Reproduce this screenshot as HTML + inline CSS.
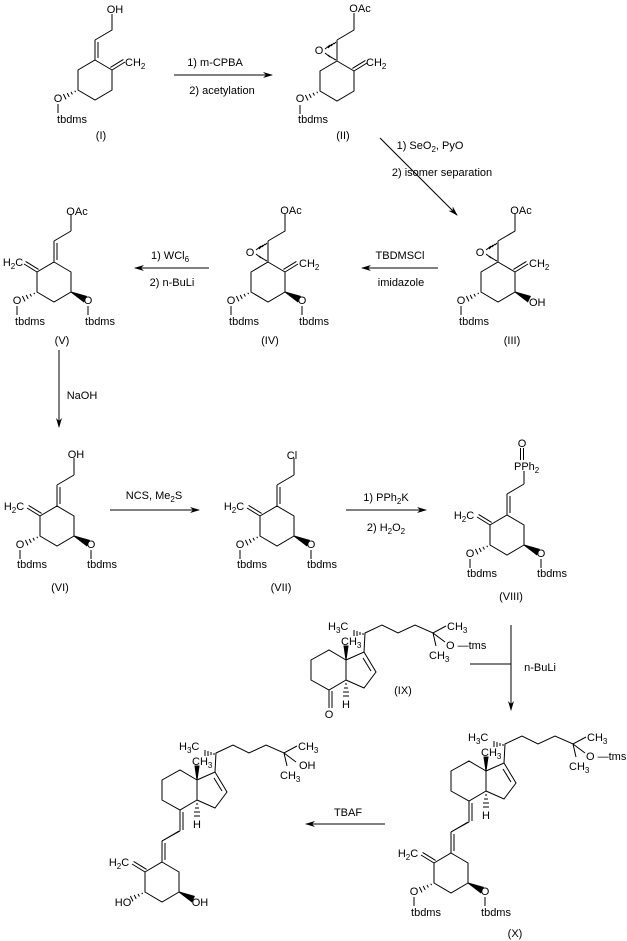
<!DOCTYPE html>
<html><head><meta charset="utf-8"><style>
html,body{margin:0;padding:0;background:#fff;}
svg{display:block;}
text{font-family:"Liberation Sans",Arial,sans-serif;font-size:11px;fill:#000;}
.s{font-size:8px;}
</style></head><body>
<svg width="627" height="941" viewBox="0 0 627 941" xmlns="http://www.w3.org/2000/svg">
<defs>
<marker id="ah" markerWidth="10" markerHeight="8" refX="9" refY="4" orient="auto" markerUnits="userSpaceOnUse">
<path d="M0,1 L10,4 L0,7 L3,4 Z" fill="#000"/></marker>
<g id="hex"><path d="M0,0 L17,10 L17,30 L0,40 L-17,30 L-17,10 Z" fill="none" stroke="#000"/></g>
<g id="hashL" stroke="#000" stroke-width="1"><path d="M-20.2,30.7 L-19.4,32.1 M-24,31.9 L-22.6,34.5 M-27.8,33 L-25.8,36.9 M-31.6,34 L-29,39.4"/></g>
<path id="wedgeR" d="M17,30 L32.3,34.3 L29.7,39.7 Z" fill="#000"/>
<g id="exoUL" stroke="#000"><path d="M-17,10 L-30,2 M-15.4,7.4 L-28.4,-0.6"/></g>
<g id="exoUR" stroke="#000"><path d="M17,10 L30,2 M15.4,7.4 L28.4,-0.6"/></g>
<g id="ringA" fill="none" stroke="#000">
<use href="#hex"/><use href="#exoUL"/><use href="#hashL"/><use href="#wedgeR"/>
<path d="M0,0 L0,-21 M3,-2 L3,-19 M0,-21 L17,-31"/>
</g>
<g id="oLines" stroke="#000"><path d="M-37,44 L-37,53 M34,44 L34,53"/></g>
<g id="epox" stroke="#000" fill="none">
<path d="M0,0 L0,-21"/>
<path d="M-3,-2 L-1,-1 M-6,-4 L-3,-2 M-9,-6 L-5,-3 M-12,-8 L-7,-4" stroke-width="1"/>
<path d="M-1,-19 L-3,-17 M-3,-18 L-6,-15 M-5,-17 L-9,-13 M-7,-16 L-12,-12" stroke-width="1"/>
<path d="M0,-21 L17,-31 L17,-48"/>
</g>
<g id="cd" fill="none" stroke="#000">
<path d="M0,0 L-17,-10 L-35,0 L-35,20 L-17,30 L0,20 Z"/>
<path d="M0,0 L18,-8 L30,12 L18,28 L0,20"/>
<path d="M17,-2 L25,11"/>
<path d="M-2,-14 L2,-14 L0,0 Z" fill="#000"/>
<path d="M18,-8 L19,-27 L36,-35 L52,-27 L69,-35 L87,-27 L100,-34 M87,-27 L99,-18 M87,-27 L90,-14"/>
<path d="M17,-27 L17,-25 M14,-28 L14,-25 M11,-29 L11,-24 M8,-30 L8,-24" />
<path d="M1,24 L-1,24 M2,28 L-2,28 M3,32 L-3,32 M3,36 L-3,36"/>
</g>
</defs>

<!-- I -->
<g transform="translate(95,60)" stroke="#000" fill="none">
<use href="#hex"/><use href="#exoUR"/><use href="#hashL"/>
<path d="M0,0 L0,-20 M3,-2 L3,-18 M0,-20 L17,-30 L17,-46 M-37,44 L-37,53"/>
</g>
<text x="115" y="13" text-anchor="middle">OH</text>
<text x="125" y="66">CH<tspan class="s" dy="3">2</tspan></text>
<text x="58" y="102" text-anchor="middle">O</text>
<text x="72" y="123" text-anchor="middle">tbdms</text>
<text x="101" y="139" text-anchor="middle">(I)</text>

<line x1="174" y1="75" x2="272" y2="75" stroke="#000" marker-end="url(#ah)"/>
<text x="215" y="66" text-anchor="middle">1) m-CPBA</text>
<text x="222" y="94" text-anchor="middle">2) acetylation</text>

<!-- II -->
<g transform="translate(337,61)" stroke="#000" fill="none">
<use href="#hex"/><use href="#exoUR"/><use href="#hashL"/><use href="#epox"/>
<path d="M-37,44 L-37,53"/>
</g>
<text x="319" y="54" text-anchor="middle">O</text>
<text x="360" y="12" text-anchor="middle">OAc</text>
<text x="366" y="66">CH<tspan class="s" dy="3">2</tspan></text>
<text x="300" y="102" text-anchor="middle">O</text>
<text x="313" y="123" text-anchor="middle">tbdms</text>
<text x="343" y="139" text-anchor="middle">(II)</text>

<line x1="380" y1="138" x2="457" y2="215" stroke="#000" marker-end="url(#ah)"/>
<text x="430" y="149" text-anchor="middle">1) SeO<tspan class="s" dy="3">2</tspan><tspan dy="-3">, PyO</tspan></text>
<text x="442" y="176" text-anchor="middle">2) isomer separation</text>

<!-- III -->
<g transform="translate(498,262)" stroke="#000" fill="none">
<use href="#hex"/><use href="#exoUR"/><use href="#hashL"/><use href="#wedgeR"/><use href="#epox"/>
<path d="M-37,44 L-37,53"/>
</g>
<text x="480" y="256" text-anchor="middle">O</text>
<text x="521" y="214" text-anchor="middle">OAc</text>
<text x="529" y="267">CH<tspan class="s" dy="3">2</tspan></text>
<text x="529" y="306">OH</text>
<text x="461" y="304" text-anchor="middle">O</text>
<text x="474" y="325" text-anchor="middle">tbdms</text>
<text x="512" y="344" text-anchor="middle">(III)</text>

<line x1="438" y1="268" x2="362" y2="268" stroke="#000" marker-end="url(#ah)"/>
<text x="400" y="259" text-anchor="middle">TBDMSCl</text>
<text x="401" y="286" text-anchor="middle">imidazole</text>

<!-- IV -->
<g transform="translate(268,262)" stroke="#000" fill="none">
<use href="#hex"/><use href="#exoUR"/><use href="#hashL"/><use href="#wedgeR"/><use href="#epox"/>
<use href="#oLines"/>
</g>
<text x="250" y="256" text-anchor="middle">O</text>
<text x="291" y="214" text-anchor="middle">OAc</text>
<text x="299" y="267">CH<tspan class="s" dy="3">2</tspan></text>
<text x="231" y="304" text-anchor="middle">O</text>
<text x="244" y="325" text-anchor="middle">tbdms</text>
<text x="302" y="304" text-anchor="middle">O</text>
<text x="314" y="325" text-anchor="middle">tbdms</text>
<text x="270" y="344" text-anchor="middle">(IV)</text>

<line x1="209" y1="268" x2="135" y2="268" stroke="#000" marker-end="url(#ah)"/>
<text x="170" y="259" text-anchor="middle">1) WCl<tspan class="s" dy="3">6</tspan></text>
<text x="172" y="286" text-anchor="middle">2) n-BuLi</text>

<!-- V -->
<g transform="translate(54,262)" stroke="#000" fill="none">
<use href="#ringA"/><use href="#oLines"/><path d="M17,-31 L17,-48"/>
</g>
<text x="77" y="215" text-anchor="middle">OAc</text>
<text x="13" y="266" text-anchor="middle">H<tspan class="s" dy="3">2</tspan><tspan dy="-3">C</tspan></text>
<text x="17" y="304" text-anchor="middle">O</text>
<text x="30" y="325" text-anchor="middle">tbdms</text>
<text x="88" y="304" text-anchor="middle">O</text>
<text x="100" y="325" text-anchor="middle">tbdms</text>
<text x="62" y="344" text-anchor="middle">(V)</text>

<line x1="59" y1="350" x2="59" y2="427" stroke="#000" marker-end="url(#ah)"/>
<text x="82" y="399" text-anchor="middle">NaOH</text>

<!-- VI -->
<g transform="translate(57,506)" stroke="#000" fill="none">
<use href="#ringA"/><use href="#oLines"/><path d="M17,-31 L17,-48"/>
</g>
<text x="76" y="458" text-anchor="middle">OH</text>
<text x="14" y="510" text-anchor="middle">H<tspan class="s" dy="3">2</tspan><tspan dy="-3">C</tspan></text>
<text x="20" y="548" text-anchor="middle">O</text>
<text x="32" y="568" text-anchor="middle">tbdms</text>
<text x="91" y="548" text-anchor="middle">O</text>
<text x="102" y="568" text-anchor="middle">tbdms</text>
<text x="60" y="591" text-anchor="middle">(VI)</text>

<line x1="110" y1="510" x2="199" y2="510" stroke="#000" marker-end="url(#ah)"/>
<text x="154" y="499" text-anchor="middle">NCS, Me<tspan class="s" dy="3">2</tspan><tspan dy="-3">S</tspan></text>

<!-- VII -->
<g transform="translate(277,506)" stroke="#000" fill="none">
<use href="#ringA"/><use href="#oLines"/><path d="M17,-31 L17,-48"/>
</g>
<text x="292" y="459" text-anchor="middle">Cl</text>
<text x="234" y="510" text-anchor="middle">H<tspan class="s" dy="3">2</tspan><tspan dy="-3">C</tspan></text>
<text x="240" y="548" text-anchor="middle">O</text>
<text x="252" y="568" text-anchor="middle">tbdms</text>
<text x="311" y="548" text-anchor="middle">O</text>
<text x="322" y="568" text-anchor="middle">tbdms</text>
<text x="281" y="591" text-anchor="middle">(VII)</text>

<line x1="346" y1="510" x2="426" y2="510" stroke="#000" marker-end="url(#ah)"/>
<text x="386" y="501" text-anchor="middle">1) PPh<tspan class="s" dy="3">2</tspan><tspan dy="-3">K</tspan></text>
<text x="386" y="531" text-anchor="middle">2) H<tspan class="s" dy="3">2</tspan><tspan dy="-3">O</tspan><tspan class="s" dy="3">2</tspan></text>

<!-- VIII -->
<g transform="translate(507,515)" stroke="#000" fill="none">
<use href="#ringA"/><use href="#oLines"/><path d="M17,-31 L17,-44"/>
</g>
<path d="M520.5,448 L520.5,460 M523.5,448 L523.5,460" stroke="#000"/>
<text x="522" y="447" text-anchor="middle">O</text>
<text x="514" y="470">PPh<tspan class="s" dy="3">2</tspan></text>
<text x="464" y="519" text-anchor="middle">H<tspan class="s" dy="3">2</tspan><tspan dy="-3">C</tspan></text>
<text x="470" y="557" text-anchor="middle">O</text>
<text x="482" y="577" text-anchor="middle">tbdms</text>
<text x="541" y="557" text-anchor="middle">O</text>
<text x="552" y="577" text-anchor="middle">tbdms</text>
<text x="511" y="600" text-anchor="middle">(VIII)</text>

<!-- n-BuLi arrow -->
<line x1="511" y1="625" x2="511" y2="710" stroke="#000" marker-end="url(#ah)"/>
<line x1="470" y1="664" x2="511" y2="664" stroke="#000"/>
<text x="540" y="671" text-anchor="middle">n-BuLi</text>

<!-- IX -->
<g transform="translate(346,660)" stroke="#000" fill="none">
<use href="#cd"/>
<path d="M-17,30 L-17,48 M-14,31 L-14,48"/>
</g>
<text x="341" y="645">CH<tspan class="s" dy="3">3</tspan></text>
<text x="328" y="630">H<tspan class="s" dy="3">3</tspan><tspan dy="-3">C</tspan></text>
<text x="447" y="630">CH<tspan class="s" dy="3">3</tspan></text>
<text x="446" y="649">O —tms</text>
<text x="429" y="659">CH<tspan class="s" dy="3">3</tspan></text>
<text x="329" y="718" text-anchor="middle">O</text>
<text x="346" y="708" text-anchor="middle">H</text>
<text x="403" y="694" text-anchor="middle">(IX)</text>

<!-- X -->
<g transform="translate(486,771)" stroke="#000" fill="none">
<use href="#cd"/>
<path d="M-17,30 L-17,51 M-14,32 L-14,50 M-17,51 L-35,61"/>
</g>
<g transform="translate(451,853)" stroke="#000" fill="none">
<use href="#ringA"/><use href="#oLines"/>
</g>
<text x="481" y="756">CH<tspan class="s" dy="3">3</tspan></text>
<text x="468" y="741">H<tspan class="s" dy="3">3</tspan><tspan dy="-3">C</tspan></text>
<text x="587" y="741">CH<tspan class="s" dy="3">3</tspan></text>
<text x="586" y="760">O —tms</text>
<text x="569" y="770">CH<tspan class="s" dy="3">3</tspan></text>
<text x="486" y="819" text-anchor="middle">H</text>
<text x="408" y="857" text-anchor="middle">H<tspan class="s" dy="3">2</tspan><tspan dy="-3">C</tspan></text>
<text x="414" y="895" text-anchor="middle">O</text>
<text x="426" y="916" text-anchor="middle">tbdms</text>
<text x="485" y="895" text-anchor="middle">O</text>
<text x="496" y="916" text-anchor="middle">tbdms</text>
<text x="515" y="937" text-anchor="middle">(X)</text>

<line x1="385" y1="824" x2="306" y2="824" stroke="#000" marker-end="url(#ah)"/>
<text x="348" y="816" text-anchor="middle">TBAF</text>

<!-- XI -->
<g transform="translate(197,780)" stroke="#000" fill="none">
<use href="#cd"/>
<path d="M-17,30 L-17,51 M-14,32 L-14,50 M-17,51 L-35,61"/>
</g>
<g transform="translate(162,862)" stroke="#000" fill="none">
<use href="#ringA"/>
</g>
<text x="192" y="765">CH<tspan class="s" dy="3">3</tspan></text>
<text x="179" y="750">H<tspan class="s" dy="3">3</tspan><tspan dy="-3">C</tspan></text>
<text x="298" y="750">CH<tspan class="s" dy="3">3</tspan></text>
<text x="299" y="769">OH</text>
<text x="280" y="779">CH<tspan class="s" dy="3">3</tspan></text>
<text x="197" y="828" text-anchor="middle">H</text>
<text x="119" y="866" text-anchor="middle">H<tspan class="s" dy="3">2</tspan><tspan dy="-3">C</tspan></text>
<text x="123" y="906" text-anchor="middle">HO</text>
<text x="200" y="906" text-anchor="middle">OH</text>
</svg>
</body></html>
